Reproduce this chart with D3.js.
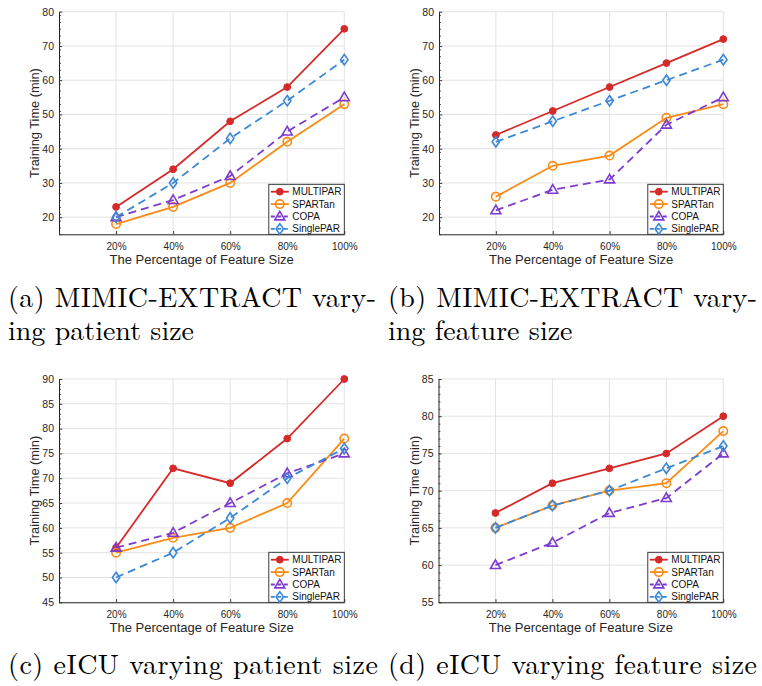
<!DOCTYPE html>
<html>
<head>
<meta charset="utf-8">
<script src="https://cdn.jsdelivr.net/npm/d3@7"></script>
<style>
  html, body { margin: 0; padding: 0; background: #fff; }
  svg { display: block; }
</style>
</head>
<body>
<svg id="fig" width="762" height="686"></svg>
<script>
// ---- data ----
const xValues = [20, 40, 60, 80, 100];
const xLabels = ["20%", "40%", "60%", "80%", "100%"];
const seriesNames = ["MULTIPAR", "SPARTan", "COPA", "SinglePAR"];

// training time (min), one row per series in seriesNames order
const mimicPatient = [
  [23, 34, 48, 58, 75],
  [18, 23, 30, 42, 53],
  [20, 25, 32, 45, 55],
  [20, 30, 43, 54, 66]
];
const mimicFeature = [
  [44, 51, 58, 65, 72],
  [26, 35, 38, 49, 53],
  [22, 28, 31, 47, 55],
  [42, 48, 54, 60, 66]
];
const eicuPatient = [
  [56, 72, 69, 78, 90],
  [55, 58, 60, 65, 78],
  [56, 59, 65, 71, 75],
  [50, 55, 62, 70, 76]
];
const eicuFeature = [
  [67, 71, 73, 75, 80],
  [65, 68, 70, 71, 78],
  [60, 63, 67, 69, 75],
  [65, 68, 70, 73, 76]
];

const mimicYTicks = [20, 30, 40, 50, 60, 70, 80];
const eicuPatientYTicks = [45, 50, 55, 60, 65, 70, 75, 80, 85, 90];
const eicuFeatureYTicks = [55, 60, 65, 70, 75, 80, 85];

const captionA = ["(a) MIMIC-EXTRACT vary-", "ing patient size"];
const captionB = ["(b) MIMIC-EXTRACT vary-", "ing feature size"];
const captionC = ["(c) eICU varying patient size"];
const captionD = ["(d) eICU varying feature size"];

const xTitle = "The Percentage of Feature Size";
const yTitle = "Training Time (min)";

// ---- styles ----
const colors = ["#d62a2a", "#f98b16", "#7d3ccf", "#3b88d6"];
const dashes = [null, null, "8,5", "8,5"];
const axisColor = "#262626";
const gridColor = "#e3e3e3";
const sansFont = "'Liberation Sans', Arial, Helvetica, sans-serif";
const serifFont = "'Latin Modern Roman', 'CMU Serif', 'Liberation Serif', serif";

const svg = d3.select("#fig");
svg.append("rect").attr("width", 762).attr("height", 686).attr("fill", "#fff");

// marker drawers
function drawMarker(g, kind, color) {
  if (kind === 0) {
    g.append("circle").attr("r", 3.4).attr("fill", color).attr("stroke", color).attr("stroke-width", 1);
  } else if (kind === 1) {
    g.append("circle").attr("r", 4.2).attr("fill", "none").attr("stroke", color).attr("stroke-width", 1.6);
  } else if (kind === 2) {
    g.append("path").attr("d", "M0,-5.2L5,3.4L-5,3.4Z")
      .attr("fill", "none").attr("stroke", color).attr("stroke-width", 1.6).attr("stroke-linejoin", "miter");
  } else {
    g.append("path").attr("d", "M0,-5.2L3.7,0L0,5.2L-3.7,0Z")
      .attr("fill", "none").attr("stroke", color).attr("stroke-width", 1.6);
  }
}

function drawPanel(opts) {
  const { left, right, top, bottom, yDomain, yTicks, yMinorStep, data } = opts;
  const x = d3.scaleLinear().domain([0, 100]).range([left, right]);
  const y = d3.scaleLinear().domain(yDomain).range([bottom, top]);
  const g = svg.append("g");

  // grid
  const grid = g.append("g").attr("stroke", gridColor).attr("stroke-width", 1);
  yTicks.forEach(v => {
    grid.append("line").attr("x1", left).attr("x2", right)
      .attr("y1", y(v)).attr("y2", y(v));
  });
  xValues.forEach(v => {
    grid.append("line").attr("x1", x(v)).attr("x2", x(v))
      .attr("y1", top).attr("y2", bottom);
  });

  // minor y ticks
  const minor = d3.range(yDomain[0], yDomain[1] + 0.001, yMinorStep)
    .filter(v => !yTicks.includes(v));
  const minorAxis = g.append("g").attr("transform", `translate(${left},0)`)
    .call(d3.axisLeft(y).tickValues(minor).tickSize(-2).tickSizeOuter(0).tickFormat(""));
  minorAxis.select(".domain").remove();
  minorAxis.selectAll("line").attr("stroke", axisColor).attr("stroke-width", 0.8);

  // y axis
  const yAxis = g.append("g").attr("transform", `translate(${left},0)`)
    .call(d3.axisLeft(y).tickValues(yTicks).tickSize(-3.2).tickSizeOuter(0).tickPadding(5));
  yAxis.select(".domain").attr("stroke", axisColor).attr("stroke-width", 1);
  yAxis.selectAll("line").attr("stroke", axisColor).attr("stroke-width", 0.9);
  yAxis.selectAll("text").attr("fill", axisColor).attr("font-size", 10.5).attr("font-family", sansFont);

  // x axis
  const xAxis = g.append("g").attr("transform", `translate(0,${bottom})`)
    .call(d3.axisBottom(x).tickValues(xValues).tickSize(-3.2).tickSizeOuter(0).tickPadding(9)
      .tickFormat((d, i) => xLabels[i]));
  xAxis.select(".domain").attr("stroke", axisColor).attr("stroke-width", 1);
  xAxis.selectAll("line").attr("stroke", axisColor).attr("stroke-width", 0.9);
  xAxis.selectAll("text").attr("fill", axisColor).attr("font-size", 10).attr("font-family", sansFont);

  // axis titles
  g.append("text").attr("x", (left + right) / 2).attr("y", bottom + 30)
    .attr("text-anchor", "middle").attr("font-size", 13).attr("font-family", sansFont)
    .attr("fill", axisColor).text(xTitle);
  g.append("text")
    .attr("transform", `translate(${left - 20},${(top + bottom) / 2}) rotate(-90)`)
    .attr("text-anchor", "middle").attr("font-size", 12.8).attr("font-family", sansFont)
    .attr("fill", axisColor).text(yTitle);

  // series
  const line = d3.line().x((d, i) => x(xValues[i])).y(d => y(d));
  data.forEach((vals, s) => {
    const sg = g.append("g");
    sg.append("path").attr("d", line(vals)).attr("fill", "none")
      .attr("stroke", colors[s]).attr("stroke-width", 1.8)
      .attr("stroke-dasharray", dashes[s]);
    vals.forEach((v, i) => {
      const m = sg.append("g").attr("transform", `translate(${x(xValues[i])},${y(v)})`);
      drawMarker(m, s, colors[s]);
    });
  });

  // legend, anchored at the lower-right corner of the plot
  const lw = 75.5, lh = 50;
  const lx = right - lw, ly = bottom - lh;
  const lg = g.append("g").attr("transform", `translate(${lx},${ly})`);
  lg.append("rect").attr("width", lw).attr("height", lh)
    .attr("fill", "#fff").attr("stroke", axisColor).attr("stroke-width", 0.9);
  const rowY = [7.4, 19.8, 32.2, 44.6];
  seriesNames.forEach((name, s) => {
    const r = lg.append("g").attr("transform", `translate(0,${rowY[s]})`);
    r.append("line").attr("x1", 2).attr("x2", 20).attr("y1", 0).attr("y2", 0)
      .attr("stroke", colors[s]).attr("stroke-width", 1.8)
      .attr("stroke-dasharray", dashes[s] ? "4,2.5" : null);
    const m = r.append("g").attr("transform", "translate(11,0)");
    drawMarker(m, s, colors[s]);
    r.append("text").attr("x", 23.5).attr("y", 0).attr("dy", "0.35em")
      .attr("font-size", 10).attr("font-family", sansFont).attr("fill", "#111")
      .text(name);
  });
}

drawPanel({ left: 59, right: 344.3, top: 11.7, bottom: 234.3,
  yDomain: [15, 80], yTicks: mimicYTicks, yMinorStep: 2, data: mimicPatient });
drawPanel({ left: 439, right: 723.3, top: 11.7, bottom: 234.3,
  yDomain: [15, 80], yTicks: mimicYTicks, yMinorStep: 2, data: mimicFeature });
drawPanel({ left: 59, right: 344.3, top: 379, bottom: 602.3,
  yDomain: [45, 90], yTicks: eicuPatientYTicks, yMinorStep: 1, data: eicuPatient });
drawPanel({ left: 438.5, right: 723.3, top: 379, bottom: 602.3,
  yDomain: [55, 85], yTicks: eicuFeatureYTicks, yMinorStep: 1, data: eicuFeature });

// sub-figure captions; the first line of each is set to the full column width
function caption(lines, x, y0, width) {
  lines.forEach((t, i) => {
    const el = svg.append("text").attr("x", x).attr("y", y0 + i * 33)
      .attr("font-family", serifFont).attr("font-size", 28).attr("fill", "#000")
      .text(t);
    if (i === 0) el.attr("textLength", width).attr("lengthAdjust", "spacing");
  });
}
caption(captionA, 8, 307, 368);
caption(captionB, 388, 307, 369);
caption(captionC, 8, 674, 370);
caption(captionD, 388, 674, 369);
</script>
</body>
</html>
